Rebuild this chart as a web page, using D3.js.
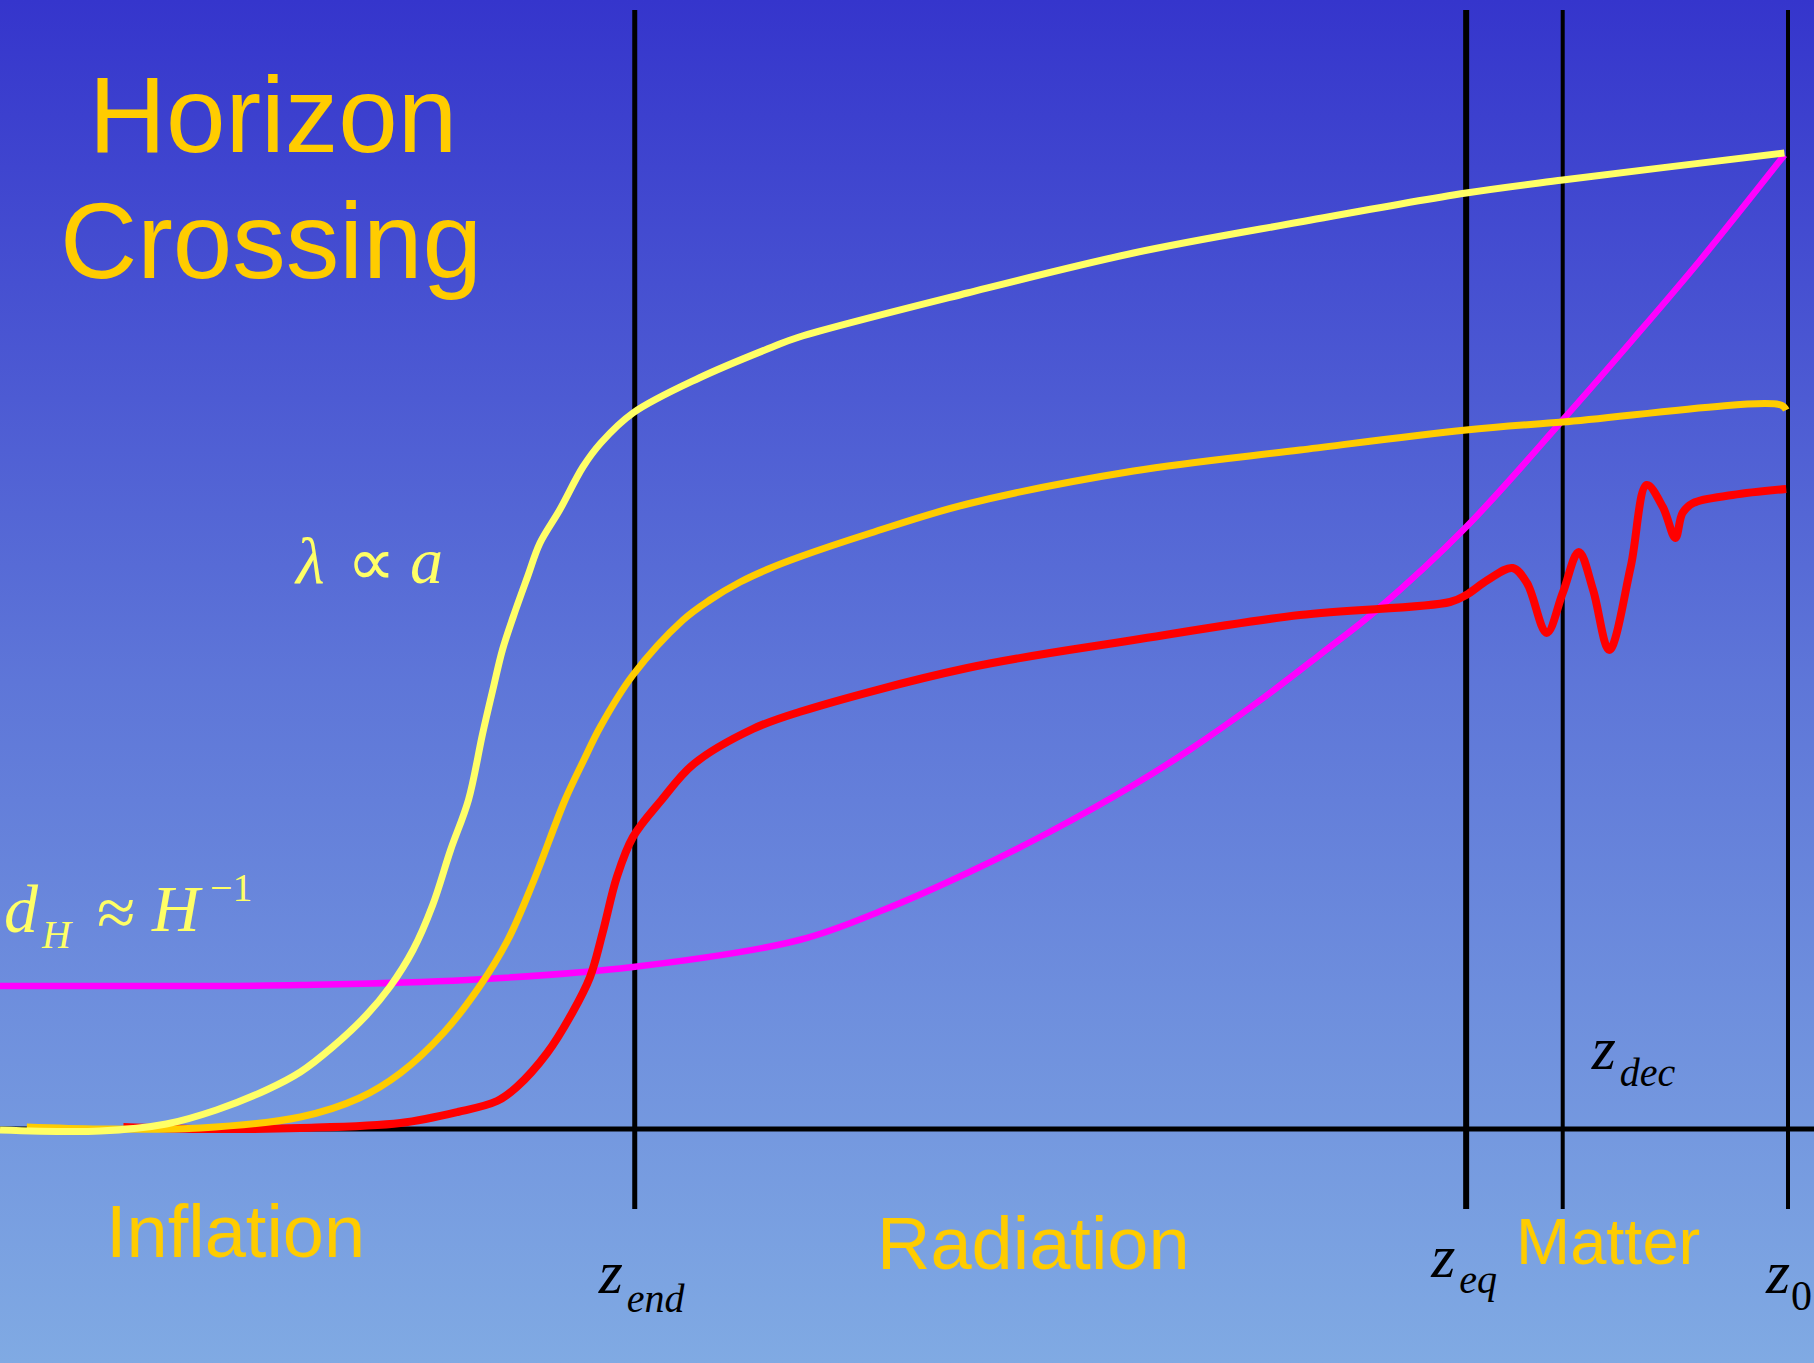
<!DOCTYPE html>
<html lang="en">
<head>
	<meta charset="utf-8">
	<title> horizon crossing </title>
	<script src="https://d3js.org/d3.v7.min.js"></script>
	<style type="text/css">
	body { margin: 0; padding: 0; overflow: hidden; }
	</style>
</head>
<body>
	<div>
	<svg id="placeholder1" style="width:1814px; height:1363px; display:block"></svg>
	</div>

	<script type="text/javascript">
	// colors
	yellowLight = "#ffff66"
	orange = "#ffcc00"
	red = "#ff0000"
	magenta = "#ff00ff"
	gold = "#ffcc00"

	windowW = 1814
	windowH = 1363

	// data: x = time-ish units (z_0 = 100), y = log length units (axis = 0)
	// epoch boundaries
	var epochNames = ["end", "eq", "dec", "0"]
	var epochX = [35.5, 82.0, 87.4, 100]

	// horizon d_H ~ 1/H
	var horizonX = [0, 11.2, 16.8, 26.1, 35.4, 44.7, 49.4, 54.1, 58.7, 63.4, 66.6, 70.5, 73.8, 77.0, 82.0, 87.4, 91.3, 95.1, 99.8]
	var horizonY = [14.3, 14.3, 14.4, 14.9, 16.2, 18.9, 21.9, 25.6, 29.7, 34.4, 38.0, 42.9, 47.4, 51.9, 60.2, 70.9, 78.9, 86.9, 97.4]

	// largest scale mode (light yellow)
	var mode1X = [0, 5.6, 9.3, 12.1, 14.9, 16.8, 18.6, 20.5, 21.8, 23.1, 24.2, 25.2, 26.2, 27.0, 27.6, 28.1, 28.7, 29.5, 30.2, 31.3, 32.6, 33.6, 35.4, 39.1, 43.2, 44.7, 54.1, 63.4, 72.7, 82.0, 87.4, 99.8]
	var mode1Y = [-0.1, -0.2, 0.5, 1.9, 3.9, 5.7, 8.2, 11.4, 14.2, 17.9, 22.4, 27.9, 32.9, 39.6, 44.2, 47.9, 51.2, 55.2, 58.6, 61.9, 66.2, 68.6, 71.6, 75.1, 78.2, 79.2, 83.6, 87.6, 90.7, 93.6, 94.9, 97.6]

	// middle mode (orange)
	var mode2X = [1.5, 5.6, 11.2, 16.8, 20.1, 22.4, 24.8, 26.8, 28.4, 29.8, 31.6, 32.6, 33.6, 35.4, 38.2, 39.7, 41.4, 43.1, 44.7, 48.7, 54.1, 63.4, 72.7, 82.0, 87.4, 99.6, 99.9]
	var mode2Y = [0.2, 0, 0.1, 1.2, 3.1, 5.6, 9.6, 14.2, 18.9, 24.6, 32.9, 36.7, 40.3, 45.4, 50.9, 52.9, 54.7, 56.1, 57.2, 59.6, 62.5, 65.8, 67.9, 69.9, 70.7, 72.4, 71.9]

	// small mode (red), oscillates after entering the horizon
	var mode3X = [6.9, 11.2, 16.8, 22.4, 25.6, 27.8, 28.9, 30.6, 32.0, 33.0, 33.7, 34.5, 35.4, 37.0, 38.8, 42.1, 44.7, 54.1, 63.4, 72.7, 81.1, 82.0, 83.2, 84.6, 85.4, 86.5, 87.4, 88.3, 89.1, 90.0, 91.2, 92.1, 93.0, 93.7, 94.1, 94.7, 96.9, 99.9]
	var mode3Y = [0.2, 0, 0.1, 0.6, 1.7, 2.8, 4.2, 7.6, 11.6, 15.2, 19.6, 25.2, 29.2, 32.9, 36.5, 40.0, 41.7, 46.1, 48.9, 51.4, 52.7, 53.4, 54.9, 56.1, 54.6, 49.6, 53.6, 57.7, 53.9, 47.9, 56.2, 64.4, 62.2, 59.1, 61.6, 62.6, 63.4, 64.0]

	var eraLabels = ["Inflation", "Radiation", "Matter"]

	// scales
	var x = d3.scaleLinear().domain([0, 100]).range([0, 1788])
	var y = d3.scaleLinear().domain([0, 100]).range([1129, 129])

	var svg = d3.select("#placeholder1")
				.attr("width", windowW)
				.attr("height", windowH)

	// background gradient
	var defs = svg.append("defs")
	var grad = defs.append("linearGradient")
				.attr("id", "bg")
				.attr("x1", 0).attr("y1", 0)
				.attr("x2", 0).attr("y2", 1)
	grad.append("stop").attr("offset", "0%").attr("stop-color", "#3535cc")
	grad.append("stop").attr("offset", "50%").attr("stop-color", "#5e76d8")
	grad.append("stop").attr("offset", "100%").attr("stop-color", "#80aae3")

	svg.append("rect")
		.attr("width", windowW)
		.attr("height", windowH)
		.attr("fill", "url(#bg)")

	// axis line
	svg.append("line")
		.attr("x1", 0).attr("x2", windowW)
		.attr("y1", y(0)).attr("y2", y(0))
		.attr("stroke", "black")
		.attr("stroke-width", 5)

	// epoch lines
	var epochW = [5, 6, 4, 4]
	svg.selectAll(".epoch")
		.data(epochX)
		.enter()
		.append("line")
		.attr("class", "epoch")
		.attr("x1", d => x(d)).attr("x2", d => x(d))
		.attr("y1", y(111.9)).attr("y2", y(-8))
		.attr("stroke", "black")
		.attr("stroke-width", (d, i) => epochW[i])

	// curves
	var line = d3.line()
				.x(d => x(d[0]))
				.y(d => y(d[1]))
				.curve(d3.curveCatmullRom.alpha(0.5))

	function zip(a, b) { return a.map((v, i) => [v, b[i]]) }

	var curves = [
		{ pts: zip(horizonX, horizonY), color: magenta, w: 6.5 },
		{ pts: zip(mode3X, mode3Y), color: red, w: 8 },
		{ pts: zip(mode2X, mode2Y), color: orange, w: 7 },
		{ pts: zip(mode1X, mode1Y), color: yellowLight, w: 7 }
	]

	svg.selectAll(".curve")
		.data(curves)
		.enter()
		.append("path")
		.attr("class", "curve")
		.attr("d", d => line(d.pts))
		.attr("fill", "none")
		.attr("stroke", d => d.color)
		.attr("stroke-width", d => d.w)
		.attr("stroke-linejoin", "round")

	// title
	var title = svg.append("text")
				.attr("text-anchor", "middle")
				.attr("font-family", "'Liberation Sans', Arial, sans-serif")
				.attr("font-size", 107)
				.attr("fill", gold)
	title.append("tspan").attr("x", 273).attr("y", 152).text("Horizon")
	title.append("tspan").attr("x", 271).attr("y", 278).text("Crossing")

	// era labels
	var eraPos = [[106, 1257, 74], [877, 1269, 74], [1516, 1264, 65]]
	svg.selectAll(".era")
		.data(eraLabels)
		.enter()
		.append("text")
		.attr("class", "era")
		.attr("x", (d, i) => eraPos[i][0])
		.attr("y", (d, i) => eraPos[i][1])
		.attr("font-size", (d, i) => eraPos[i][2])
		.attr("font-family", "'Liberation Sans', Arial, sans-serif")
		.attr("fill", gold)
		.text(d => d)

	// math labels
	var serif = "'Liberation Serif', 'Times New Roman', serif"

	// z labels: [dx from line, baseline, sub dx, sub baseline]
	var zPos = [[-36, 1293, 28, 1312], [-35, 1277, 28, 1293], [29, 1069, 28, 1086], [-22, 1293, 25, 1310]]
	epochX.forEach(function(ex, i) {
		var t = svg.append("text")
				.attr("font-family", serif)
				.attr("fill", "black")
		var x0 = x(ex) + zPos[i][0]
		t.append("tspan")
			.attr("x", x0).attr("y", zPos[i][1])
			.attr("font-size", 62)
			.attr("font-style", "italic")
			.text("z")
		t.append("tspan")
			.attr("x", x0 + zPos[i][2]).attr("y", zPos[i][3])
			.attr("font-size", epochNames[i] == "0" ? 42 : 40)
			.attr("font-style", epochNames[i] == "0" ? "normal" : "italic")
			.text(epochNames[i])
	})

	// d_H ~ H^-1
	var dh = svg.append("text")
				.attr("font-family", serif)
				.attr("fill", yellowLight)
	dh.append("tspan").attr("x", 4).attr("y", 932).attr("font-size", 68).attr("font-style", "italic").text("d")
	dh.append("tspan").attr("x", 42).attr("y", 948).attr("font-size", 40).attr("font-style", "italic").text("H")
	dh.append("tspan").attr("x", 97).attr("y", 936).attr("font-size", 70).text("\u2248")
	dh.append("tspan").attr("x", 152).attr("y", 931).attr("font-size", 66).attr("font-style", "italic").text("H")
	dh.append("tspan").attr("x", 210).attr("y", 901).attr("font-size", 40).text("\u22121")

	// lambda ~ a
	var la = svg.append("text")
				.attr("font-family", serif)
				.attr("fill", yellowLight)
	la.append("tspan").attr("x", 296).attr("y", 583).attr("font-size", 66).attr("font-style", "italic").text("\u03bb")
	la.append("tspan").attr("x", 347).attr("y", 585).attr("font-size", 68).text("\u221d")
	la.append("tspan").attr("x", 410).attr("y", 583).attr("font-size", 66).attr("font-style", "italic").text("a")

	</script>
</body>
</html>
